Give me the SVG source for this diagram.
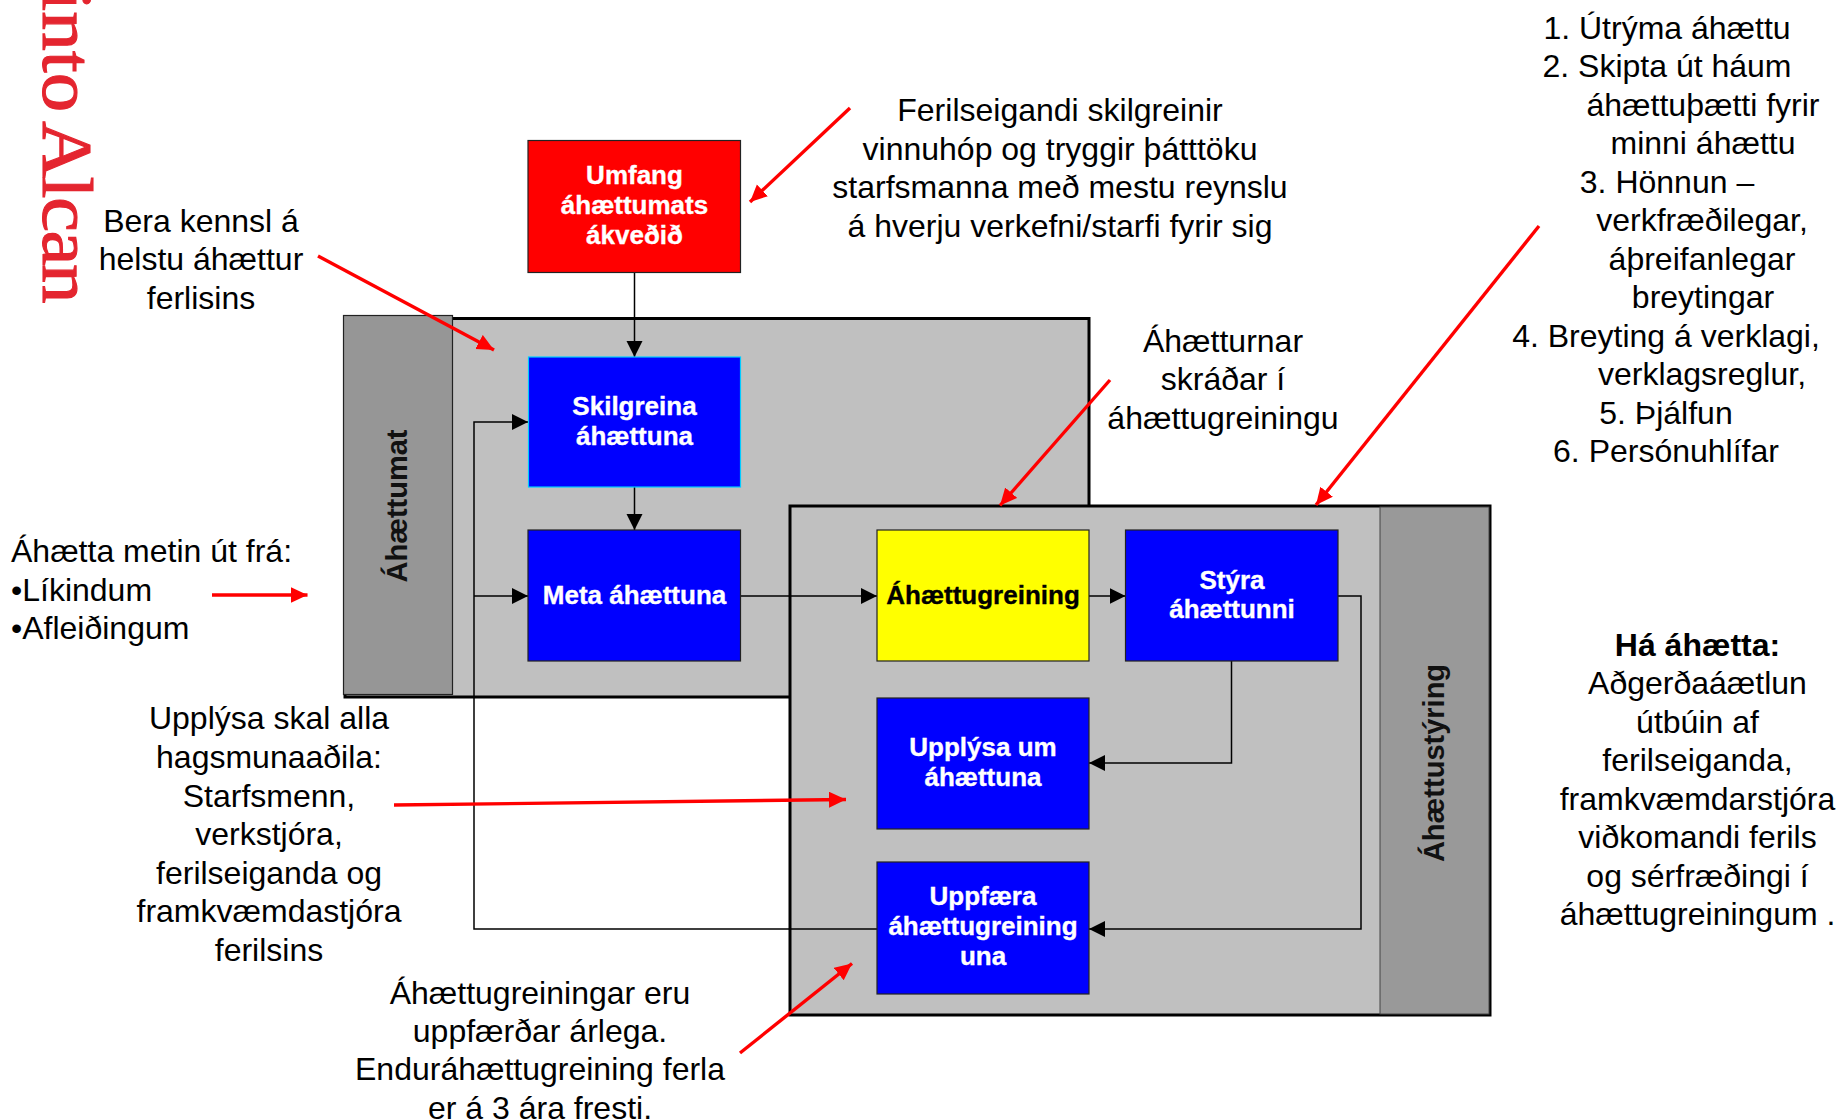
<svg xmlns="http://www.w3.org/2000/svg" width="1836" height="1120" viewBox="0 0 1836 1120">
<style>
text{font-family:"Liberation Sans",Arial,sans-serif;fill:#000}
.t{font-size:32px;text-anchor:middle}
.l{font-size:32px}
.b{font-size:26px;font-weight:bold;text-anchor:middle;fill:#fff;stroke:#fff;stroke-width:.35}
.v{font-size:29px;font-weight:bold;text-anchor:middle;fill:#111}
.box{stroke:#222;stroke-width:1.2}
.c{fill:none;stroke:#000;stroke-width:1.5}
.r{fill:none;stroke:#f00;stroke-width:3.4;marker-end:url(#ra)}
</style>
<defs>
<marker id="ba" markerUnits="userSpaceOnUse" markerWidth="18" markerHeight="18" refX="16" refY="8" orient="auto"><path d="M0 0L16 8L0 16Z" fill="#000"/></marker>
<marker id="ra" markerUnits="userSpaceOnUse" markerWidth="20" markerHeight="20" refX="17" refY="8" orient="auto"><path d="M0 0L17 8L0 16Z" fill="#f00"/></marker>
</defs>
<text id="brand" transform="translate(43,302) rotate(90) scale(1,.9)" text-anchor="end" style="font-family:'Liberation Serif',serif;font-size:79px;fill:#e4252f;stroke:#e4252f;stroke-width:1.2;word-spacing:-11px">into <tspan letter-spacing="-1.500">Alcan</tspan></text>
<g id="risk-assessment">
<rect x="345" y="318.500" width="744" height="378.500" fill="#c0c0c0" stroke="#000" stroke-width="3"/>
<rect x="343.500" y="315.500" width="109" height="379" fill="#969696" stroke="#222" stroke-width="1.200"/>
<text class="v" transform="translate(407,506) rotate(-90)">Áhættumat</text>
</g>
<g id="risk-management">
<rect x="790" y="506" width="700" height="509" fill="#c0c0c0" stroke="#000" stroke-width="3"/>
<rect x="1380" y="507" width="109" height="507" fill="#999" stroke="#444" stroke-width="1"/>
<text class="v" transform="translate(1444,763) rotate(-90)">Áhættustýring</text>
</g>
<g id="connectors">
<path class="c" d="M634.500 272V357" marker-end="url(#ba)"/>
<path class="c" d="M634.500 487V530" marker-end="url(#ba)"/>
<path class="c" d="M740 596H877" marker-end="url(#ba)"/>
<path class="c" d="M1089 596H1125.500" marker-end="url(#ba)"/>
<path class="c" d="M1231.500 661V763H1089" marker-end="url(#ba)"/>
<path class="c" d="M1338 596H1361V929H1089" marker-end="url(#ba)"/>
<path class="c" d="M877 929H474V422H528" marker-end="url(#ba)"/>
<path class="c" d="M474 596H528" marker-end="url(#ba)"/>
</g>
<g id="scope"><rect class="box" x="528" y="140.500" width="212.500" height="132" fill="#f00"/>
<text class="b"><tspan x="634.500" y="183.500">Umfang</tspan><tspan x="634.500" y="213.500">áhættumats</tspan><tspan x="634.500" y="243.500">ákveðið</tspan></text></g>
<g id="define"><rect x="528.500" y="357" width="212" height="130" fill="#00f" stroke="#0cf" stroke-width="1.200"/>
<text class="b"><tspan x="634.500" y="415">Skilgreina</tspan><tspan x="634.500" y="445">áhættuna</tspan></text></g>
<g id="assess"><rect class="box" x="528" y="530" width="212.500" height="131" fill="#00f"/>
<text class="b" x="634.500" y="604">Meta áhættuna</text></g>
<g id="register"><rect class="box" x="877" y="530" width="212" height="131" fill="#ff0"/>
<text class="b" x="983" y="604" style="fill:#000;stroke:#000">Áhættugreining</text></g>
<g id="control"><rect class="box" x="1125.500" y="530" width="212.500" height="131" fill="#00f"/>
<text class="b"><tspan x="1232" y="589">Stýra</tspan><tspan x="1232" y="618">áhættunni</tspan></text></g>
<g id="inform"><rect class="box" x="877" y="698" width="212" height="131" fill="#00f"/>
<text class="b"><tspan x="983" y="756">Upplýsa um</tspan><tspan x="983" y="786">áhættuna</tspan></text></g>
<g id="update"><rect class="box" x="877" y="862" width="212" height="132" fill="#00f"/>
<text class="b"><tspan x="983" y="905">Uppfæra</tspan><tspan x="983" y="935">áhættugreining</tspan><tspan x="983" y="965">una</tspan></text></g>
<g id="callout-arrows">
<path class="r" d="M318 256L494 350"/>
<path class="r" d="M850 108L750 202"/>
<path class="r" d="M1110 380L1000 505.500"/>
<path class="r" d="M1539 226L1316 505"/>
<path class="r" d="M212 595H307.500"/>
<path class="r" d="M394 805L846 799.500"/>
<path class="r" d="M740 1053L852 963.500"/>
</g>
<g id="notes">
<text class="t"><tspan x="201" y="232">Bera kennsl á</tspan><tspan x="201" y="270">helstu áhættur</tspan><tspan x="201" y="309">ferlisins</tspan></text>
<text class="t"><tspan x="1060" y="121">Ferilseigandi skilgreinir</tspan><tspan x="1060" y="160">vinnuhóp og tryggir þátttöku</tspan><tspan x="1060" y="198">starfsmanna með mestu reynslu</tspan><tspan x="1060" y="237">á hverju verkefni/starfi fyrir sig</tspan></text>
<text class="t"><tspan x="1223" y="352">Áhætturnar</tspan><tspan x="1223" y="390">skráðar í</tspan><tspan x="1223" y="429">áhættugreiningu</tspan></text>
<text class="l"><tspan x="11" y="562">Áhætta metin út frá:</tspan><tspan x="11" y="600.500">•Líkindum</tspan><tspan x="11" y="639">•Afleiðingum</tspan></text>
<text class="t"><tspan x="269" y="729">Upplýsa skal alla</tspan><tspan x="269" y="768">hagsmunaaðila:</tspan><tspan x="269" y="806.500">Starfsmenn,</tspan><tspan x="269" y="845">verkstjóra,</tspan><tspan x="269" y="884">ferilseiganda og</tspan><tspan x="269" y="922">framkvæmdastjóra</tspan><tspan x="269" y="961">ferilsins</tspan></text>
<text class="t"><tspan x="540" y="1004">Áhættugreiningar eru</tspan><tspan x="540" y="1042">uppfærðar árlega.</tspan><tspan x="540" y="1080">Enduráhættugreining ferla</tspan><tspan x="540" y="1119">er á 3 ára fresti.</tspan></text>
<text class="t"><tspan x="1667" y="39">1. Útrýma áhættu</tspan><tspan x="1667" y="77">2. Skipta út háum</tspan><tspan x="1703" y="116">áhættuþætti fyrir</tspan><tspan x="1703" y="154">minni áhættu</tspan><tspan x="1667" y="193">3. Hönnun –</tspan><tspan x="1702" y="231">verkfræðilegar,</tspan><tspan x="1702" y="270">áþreifanlegar</tspan><tspan x="1703" y="308">breytingar</tspan><tspan x="1666" y="347">4. Breyting á verklagi,</tspan><tspan x="1702" y="385">verklagsreglur,</tspan><tspan x="1666" y="424">5. Þjálfun</tspan><tspan x="1666" y="462">6. Persónuhlífar</tspan></text>
<text class="t"><tspan x="1697.500" y="655.500" font-weight="bold">Há áhætta:</tspan><tspan x="1697.500" y="694">Aðgerðaáætlun</tspan><tspan x="1697.500" y="733">útbúin af</tspan><tspan x="1697.500" y="771">ferilseiganda,</tspan><tspan x="1697.500" y="810">framkvæmdarstjóra</tspan><tspan x="1697.500" y="848">viðkomandi ferils</tspan><tspan x="1697.500" y="887">og sérfræðingi í</tspan><tspan x="1697.500" y="925">áhættugreiningum .</tspan></text>
</g>
</svg>
